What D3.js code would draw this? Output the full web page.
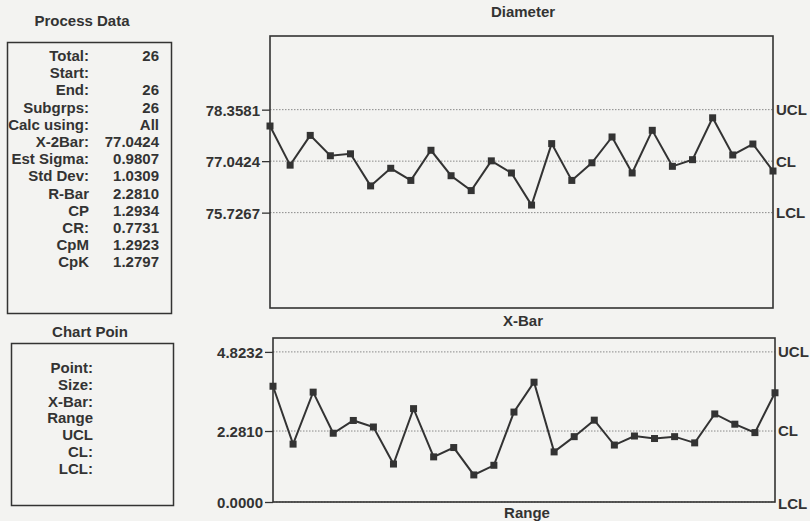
<!DOCTYPE html>
<html><head><meta charset="utf-8">
<script src="https://cdn.jsdelivr.net/npm/d3@7"></script>
<style>
html,body{margin:0;padding:0;background:#f3f3f1;}
svg{display:block;}
text{font-family:"Liberation Sans",Arial,sans-serif;font-weight:bold;fill:#333;}
</style></head>
<body>
<svg id="c" width="810" height="521"></svg>
<script>
// ---- data ----
const subgroups = d3.range(1, 27);
const xbarValues = [77.94, 76.94, 77.70, 77.18, 77.23, 76.41, 76.86, 76.55, 77.32, 76.67,
  76.29, 77.05, 76.74, 75.92, 77.49, 76.55, 77.00, 77.66, 76.74, 77.83,
  76.91, 77.08, 78.15, 77.20, 77.48, 76.79];
const rangeValues = [3.72, 1.86, 3.53, 2.21, 2.62, 2.41, 1.22, 3.00, 1.45, 1.75,
  0.87, 1.18, 2.89, 3.85, 1.61, 2.10, 2.63, 1.83, 2.12, 2.04,
  2.10, 1.90, 2.83, 2.50, 2.23, 3.51];
const xbarLimits = [78.3581, 77.0424, 75.7267];   // UCL, CL, LCL
const rangeLimits = [4.8232, 2.2810, 0.0000];
const limitNames = ["UCL", "CL", "LCL"];
const processLabels = ["Total:", "Start:", "End:", "Subgrps:", "Calc using:", "X-2Bar:", "Est Sigma:",
  "Std Dev:", "R-Bar", "CP", "CR:", "CpM", "CpK"];
const processValues = ["26", "", "26", "26", "All", "77.0424", "0.9807", "1.0309", "2.2810",
  "1.2934", "0.7731", "1.2923", "1.2797"];
const pointLabels = ["Point:", "Size:", "X-Bar:", "Range", "UCL", "CL:", "LCL:"];

const svg = d3.select("#c");
const ink = "#333";
const fs = 15;

// ---- left panels ----
svg.append("text").attr("x", 82).attr("y", 26).attr("text-anchor", "middle")
  .style("font-size", fs + "px").text("Process Data");
svg.append("rect").attr("x", 7.5).attr("y", 42.5).attr("width", 164).attr("height", 271)
  .attr("fill", "none").attr("stroke", ink).attr("stroke-width", 1.5);
processLabels.forEach((l, i) => {
  const y = 61 + i * 17.2;
  svg.append("text").attr("x", 89).attr("y", y).attr("text-anchor", "end").style("font-size", fs + "px").text(l);
  svg.append("text").attr("x", 159).attr("y", y).attr("text-anchor", "end").style("font-size", fs + "px").text(processValues[i]);
});

svg.append("text").attr("x", 90).attr("y", 337).attr("text-anchor", "middle")
  .style("font-size", fs + "px").text("Chart Poin");
svg.append("rect").attr("x", 11.5).attr("y", 343.5).attr("width", 162).attr("height", 162)
  .attr("fill", "none").attr("stroke", ink).attr("stroke-width", 1.5);
pointLabels.forEach((l, i) => {
  svg.append("text").attr("x", 93).attr("y", 373 + i * 16.8).attr("text-anchor", "end")
    .style("font-size", fs + "px").text(l);
});

// ---- control chart helper ----
function chart(opts) {
  const {left, right, top, bottom, domain, values, limits, title, titleY} = opts;
  const x = d3.scaleLinear().domain([1, 26]).range([left, right]);
  const y = d3.scaleLinear().domain(domain).range([bottom, top]);
  const g = svg.append("g");
  g.append("text").attr("x", 523).attr("y", titleY).attr("text-anchor", "middle")
    .style("font-size", fs + "px").text(title);
  // control lines
  g.selectAll("line.lim").data(limits).join("line")
    .attr("x1", left).attr("x2", right)
    .attr("y1", d => y(d)).attr("y2", d => y(d))
    .attr("stroke", "#8a8a8a").attr("stroke-width", 1).attr("stroke-dasharray", "1.5,1.5");
  // frame
  g.append("rect").attr("x", left).attr("y", top).attr("width", right - left).attr("height", bottom - top)
    .attr("fill", "none").attr("stroke", ink).attr("stroke-width", 1.6);
  // y axis
  const ax = d3.axisLeft(y).tickValues(limits).tickFormat(d3.format(".4f")).tickSize(8).tickPadding(2);
  const axg = g.append("g").attr("transform", `translate(${left},0)`).call(ax);
  axg.select(".domain").remove();
  axg.selectAll("line").attr("stroke", ink).attr("stroke-width", 1.3);
  axg.selectAll("text").attr("fill", ink).style("font-size", fs + "px")
    .style("font-family", '"Liberation Sans",Arial,sans-serif').style("font-weight", "bold").attr("dy", "0.36em");
  // right labels
  g.selectAll("text.lim").data(limits).join("text")
    .attr("x", right + 3).attr("y", (d, i) => y(d) + (i === 2 && opts.lclLow ? 2 : 0))
    .attr("dy", "0.36em").style("font-size", fs + "px").text((d, i) => limitNames[i]);
  // series
  const line = d3.line().x((d, i) => x(subgroups[i])).y(d => y(d));
  g.append("path").datum(values).attr("d", line).attr("fill", "none")
    .attr("stroke", ink).attr("stroke-width", 2).attr("stroke-linejoin", "miter");
  g.selectAll("rect.pt").data(values).join("rect")
    .attr("x", (d, i) => x(subgroups[i]) - 3.5).attr("y", d => y(d) - 3.5)
    .attr("width", 7).attr("height", 7).attr("fill", ink);
}

chart({left: 270, right: 773, top: 36, bottom: 308, domain: [73.29, 80.24],
  values: xbarValues, limits: xbarLimits, title: "Diameter", titleY: 17});
chart({left: 273, right: 775, top: 338, bottom: 502, domain: [0, 5.27],
  values: rangeValues, limits: rangeLimits, title: "X-Bar", titleY: 326, lclLow: true});
svg.append("text").attr("x", 527).attr("y", 518).attr("text-anchor", "middle")
  .style("font-size", fs + "px").text("Range");
</script>
</body></html>
